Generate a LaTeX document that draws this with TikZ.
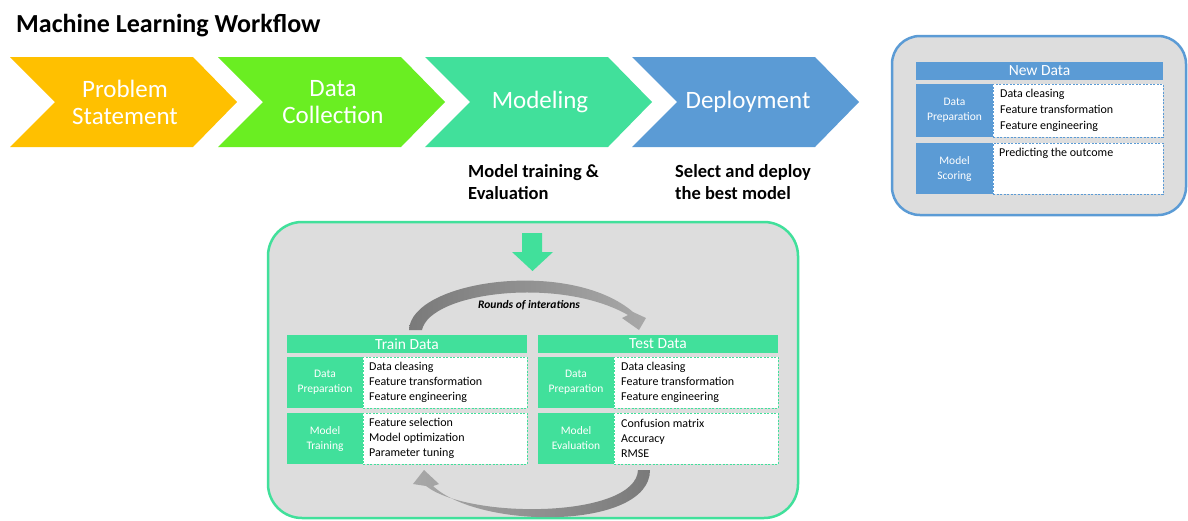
\documentclass[tikz,border=0pt]{standalone}
\usepackage{fontspec}
\setmainfont{Carlito}
\definecolor{cyel}{HTML}{FFC000}
\definecolor{cgrn}{HTML}{6AEE22}
\definecolor{cteal}{HTML}{41E09B}
\definecolor{cblue}{HTML}{5B9BD5}
\definecolor{cbg}{HTML}{DDDDDD}
\definecolor{cdark}{HTML}{7A7A7A}
\definecolor{clight}{HTML}{A8A8A8}
\tikzset{
  chevtext/.style={text=white, align=center, font=\fontsize{25}{27}\selectfont, inner sep=0pt},
  sublabel/.style={anchor=west, align=left, font=\bfseries\fontsize{18.5}{22}\selectfont, inner sep=0pt},
  hdrcell/.style={fill=#1, text=white, inner sep=0pt, outer sep=0pt, font=\fontsize{15.5}{17}\selectfont},
  leftcell/.style={fill=#1, text=white, inner sep=0pt, outer sep=0pt, align=center, font=\fontsize{11.5}{15}\selectfont, minimum width=76pt},
  rightcell/.style={fill=white, draw=#1, dashed, dash pattern=on 2pt off 1.5pt, line width=0.7pt, inner sep=0pt, outer sep=0pt},
  itemtext/.style={anchor=west, align=left, inner sep=0pt, font=\fontsize{12}{15}\selectfont},
}
\begin{document}
\begin{tikzpicture}[x=1pt,y=-1pt]
\useasboundingbox (0,0) rectangle (1188,520);
\fill[white] (0,0) rectangle (1188,520);

% title
\node[anchor=base west, inner sep=0pt, font=\bfseries\fontsize{26}{30}\selectfont] (title) at (16,32) {Machine Learning Workflow};

% chevrons
\foreach \L/\c in {10/cyel, 218/cgrn, 425/cteal, 632/cblue}{
  \fill[\c] (\L,57) -- (\L+183,57) -- (\L+227,102) -- (\L+183,147) -- (\L,147) -- (\L+45,102) -- cycle;
}
\node[chevtext] (c1) at (125,102) {Problem\\Statement};
\node[chevtext] (c2) at (333,102) {Data\\Collection};
\node[chevtext] (c3) at (540,102) {Modeling};
\node[chevtext] (c4) at (748,102) {Deployment};

\node[sublabel] (s3) at (468,182) {Model training \&\\Evaluation};
\node[sublabel] (s4) at (675,182) {Select and deploy\\the best model};

% right box (New Data)
\draw[cblue, fill=cbg, line width=2.5pt, rounded corners=28pt] (892,36) rectangle (1186,215);
\node[hdrcell=cblue, minimum width=247pt, minimum height=18pt] (ndh) at (1039.5,71) {New Data};
\node[leftcell=cblue, minimum width=77pt, minimum height=53pt] (ndl1) at (954.5,110.5) {Data\\Preparation};
\node[rightcell=cblue, minimum width=170pt, minimum height=53pt] (ndr1) at (1078,110.5) {};
\node[itemtext, font=\fontsize{12}{16}\selectfont] (ndt1) at (1000,110.5) {Data cleasing\\Feature transformation\\Feature engineering};
\node[leftcell=cblue, minimum width=77pt, minimum height=51pt] (ndl2) at (954.5,168.5) {Model\\Scoring};
\node[rightcell=cblue, minimum width=170pt, minimum height=51pt] (ndr2) at (1078,168.5) {};
\node[itemtext] (ndt2) at (999,153.5) {Predicting the outcome};

% middle box
\draw[cteal, fill=cbg, line width=2.5pt, rounded corners=34pt] (268,222) rectangle (798,518);

% down arrow
\fill[cteal] (522,233) -- (542,233) -- (542,252) -- (553,252) -- (532.5,271) -- (512,252) -- (522,252) -- cycle;

% top curved arrow
\shade[left color=cdark, right color=clight]
  (409,330) .. controls (411,280) and (570,258) .. (633,312)
  -- (646,318) -- (639,330) -- (622,318) -- (628,315)
  .. controls (560,276) and (430,292) .. (422,330) -- cycle;
\node[inner sep=0pt, font=\bfseries\itshape\fontsize{11.5}{13}\selectfont] (rounds) at (529,305) {Rounds of interations};

% bottom curved arrow
\shade[left color=clight, right color=cdark]
  (638,470) -- (650,470) .. controls (650,530) and (480,530) .. (433,486)
  -- (439,484) -- (424,470) -- (413,484) -- (426,486)
  .. controls (470,520) and (636,518) .. (638,470) -- cycle;

% Train data table
\node[hdrcell=cteal, minimum width=240pt, minimum height=18pt] (trh) at (407,344) {Train Data};
\node[leftcell=cteal, minimum height=51pt] (trl1) at (325,382.5) {Data\\Preparation};
\node[rightcell=cteal, minimum width=164pt, minimum height=51pt] (trr1) at (445,382.5) {};
\node[itemtext] (trt1) at (369,382.5) {Data cleasing\\Feature transformation\\Feature engineering};
\node[leftcell=cteal, minimum height=51pt] (trl2) at (325,438.5) {Model\\Training};
\node[rightcell=cteal, minimum width=164pt, minimum height=51pt] (trr2) at (445,438.5) {};
\node[itemtext] (trt2) at (369,438.5) {Feature selection\\Model optimization\\Parameter tuning};

% Test data table
\node[hdrcell=cteal, minimum width=240pt, minimum height=18pt] (teh) at (658,344) {Test Data};
\node[leftcell=cteal, minimum height=51pt] (tel1) at (576,382.5) {Data\\Preparation};
\node[rightcell=cteal, minimum width=164pt, minimum height=51pt] (ter1) at (696,382.5) {};
\node[itemtext] (tet1) at (621,382.5) {Data cleasing\\Feature transformation\\Feature engineering};
\node[leftcell=cteal, minimum height=51pt] (tel2) at (576,438.5) {Model\\Evaluation};
\node[rightcell=cteal, minimum width=164pt, minimum height=51pt] (ter2) at (696,438.5) {};
\node[itemtext] (tet2) at (621,438.5) {Confusion matrix\\Accuracy\\RMSE};
\end{tikzpicture}
\end{document}
